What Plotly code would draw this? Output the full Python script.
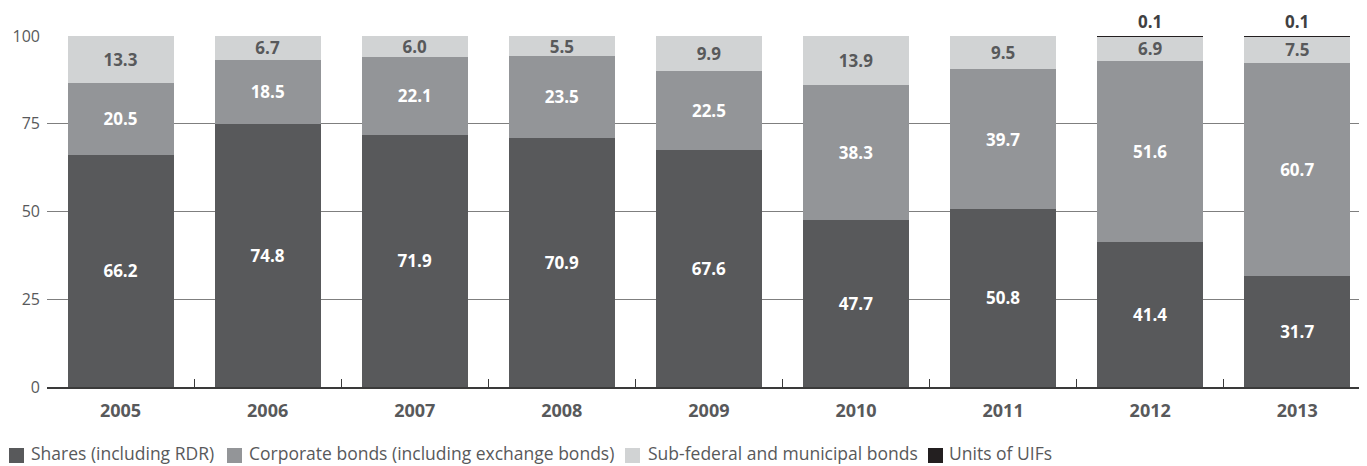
import plotly.graph_objects as go

years = ["2005", "2006", "2007", "2008", "2009", "2010", "2011", "2012", "2013"]
shares = [66.2, 74.8, 71.9, 70.9, 67.6, 47.7, 50.8, 41.4, 31.7]
corporate = [20.5, 18.5, 22.1, 23.5, 22.5, 38.3, 39.7, 51.6, 60.7]
subfederal = [13.3, 6.7, 6.0, 5.5, 9.9, 13.9, 9.5, 6.9, 7.5]
uifs = [0, 0, 0, 0, 0, 0, 0, 0.1, 0.1]

names = ["Shares (including RDR)", "Corporate bonds (including exchange bonds)",
         "Sub-federal and municipal bonds", "Units of UIFs"]
colors = ["#58595b", "#939598", "#d1d3d4", "#231f20"]
text_colors = ["#ffffff", "#ffffff", "#58595b", "#ffffff"]

FONT = "Open Sans"

# figure geometry (page body has an 8px margin)
W, H = 1359, 458
L, R, T, B = 39, 0, 28, 79
PW, PH = W - L - R, H - T - B

fig = go.Figure()
for vals, name, col, tcol in zip([shares, corporate, subfederal, uifs], names, colors, text_colors):
    is_uif = name == "Units of UIFs"
    fig.add_trace(go.Bar(
        x=years, y=vals, name=name, marker=dict(color=col, line=dict(width=0)),
        text=None if is_uif else [f"{v:.1f}" for v in vals],
        textposition="inside", insidetextanchor="middle", textangle=0,
        textfont=dict(family=FONT, size=17, color=tcol, weight="bold"),
        hoverinfo="skip", showlegend=False,
    ))

# labels for the tiny UIF segments, above the stack
for i, (a, b, c, u) in enumerate(zip(shares, corporate, subfederal, uifs)):
    if u > 0:
        fig.add_annotation(x=i, y=a + b + c + u, xref="x", yref="y", text=f"{u:.1f}",
                           showarrow=False, yanchor="bottom", yshift=1,
                           font=dict(family=FONT, size=17, color="#404041", weight="bold"))

# custom legend (square + label) placed below the plot
leg_sq_x = [1, 219, 617, 920]
leg_txt_x = [21, 239, 638, 939]
sq = 15
sq_top, leg_mid = 440, 445


def px_x(v):
    return (v - L) / PW


def px_y(v):
    return (T + PH - v) / PH


for name, col, sx, tx in zip(names, colors, leg_sq_x, leg_txt_x):
    fig.add_shape(type="rect", xref="paper", yref="paper",
                  x0=px_x(sx), x1=px_x(sx + sq), y0=px_y(sq_top + sq), y1=px_y(sq_top),
                  fillcolor=col, line=dict(width=0), layer="above")
    fig.add_annotation(xref="paper", yref="paper", x=px_x(tx), y=px_y(leg_mid),
                       xanchor="left", yanchor="middle", showarrow=False, text=name,
                       font=dict(family=FONT, size=17.5, color="#58595b"))

fig.update_layout(
    width=W, height=H,
    margin=dict(l=L, r=R, t=T, b=B, autoexpand=False),
    barmode="stack", bargap=0.28,
    plot_bgcolor="white", paper_bgcolor="white",
    uniformtext=dict(minsize=17, mode="show"),
    showlegend=False,
    xaxis=dict(type="category", range=[-0.5, 8.474], showline=True, linecolor="#3a3a3a",
               linewidth=1.5, ticks="inside", tickson="boundaries", ticklen=8,
               tickcolor="#3a3a3a", tickwidth=1, showgrid=False, ticklabelstandoff=7,
               tickfont=dict(family=FONT, size=18, color="#58595b", weight="bold")),
    yaxis=dict(range=[0, 100], tickvals=[0, 25, 50, 75, 100], showgrid=True,
               gridcolor="#7f7f7f", gridwidth=1.2, zeroline=False, showline=False,
               ticklabelstandoff=6,
               tickfont=dict(family=FONT, size=16, color="#58595b")),
)

fig.write_html("out.html")
